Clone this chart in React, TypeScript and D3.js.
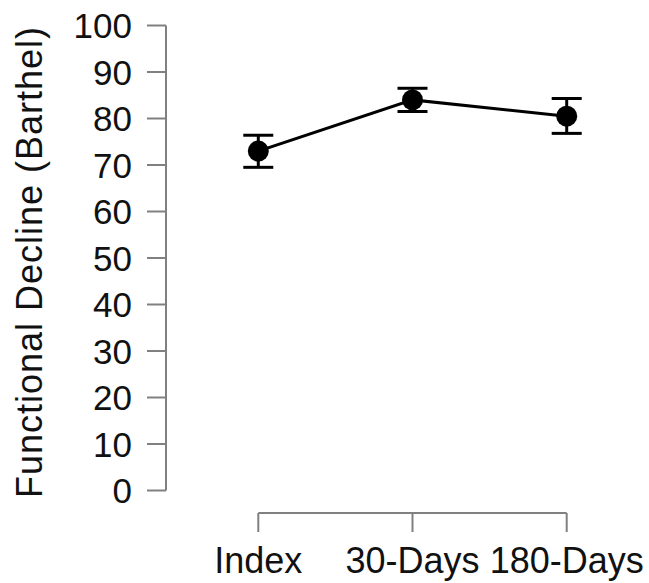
import { useRef, useEffect } from 'react';
import * as d3 from 'd3';

const timepoints = ['Index', '30-Days', '180-Days'];
const means = [73.0, 84.0, 80.5];
const lower = [69.5, 81.5, 76.8];
const upper = [76.4, 86.5, 84.3];
const yTicks = [0, 10, 20, 30, 40, 50, 60, 70, 80, 90, 100];

export default function App() {
  const svgRef = useRef<SVGSVGElement>(null);

  useEffect(() => {
    if (!svgRef.current) return;
    const svg = d3.select(svgRef.current);
    svg.selectAll('*').remove();

    const font = '"Liberation Sans", Arial, sans-serif';
    const axisColor = '#808080';

    const y = d3.scaleLinear().domain([0, 100]).range([490.5, 25.5]);
    const x = d3.scalePoint<string>().domain(timepoints).range([258.3, 566.7]);

    // y axis
    const yAxis = svg.append('g');
    yAxis.append('line')
      .attr('x1', 166).attr('x2', 166)
      .attr('y1', y(0)).attr('y2', y(100))
      .attr('stroke', axisColor).attr('stroke-width', 2);
    yTicks.forEach((t) => {
      yAxis.append('line')
        .attr('x1', 147).attr('x2', 166)
        .attr('y1', y(t)).attr('y2', y(t))
        .attr('stroke', axisColor).attr('stroke-width', 2);
      yAxis.append('text')
        .attr('x', 132).attr('y', y(t))
        .attr('dy', '0.36em')
        .attr('text-anchor', 'end')
        .style('font-family', font).style('font-size', '35px')
        .attr('fill', '#111')
        .text(t);
    });

    // x axis
    const xAxis = svg.append('g');
    xAxis.append('line')
      .attr('x1', x('Index')!).attr('x2', x('180-Days')!)
      .attr('y1', 513).attr('y2', 513)
      .attr('stroke', axisColor).attr('stroke-width', 2);
    timepoints.forEach((tp) => {
      xAxis.append('line')
        .attr('x1', x(tp)!).attr('x2', x(tp)!)
        .attr('y1', 513).attr('y2', 532)
        .attr('stroke', axisColor).attr('stroke-width', 2);
      xAxis.append('text')
        .attr('x', x(tp)!).attr('y', 573)
        .attr('text-anchor', 'middle')
        .style('font-family', font).style('font-size', '36px')
        .attr('fill', '#111')
        .text(tp);
    });

    // y title
    svg.append('text')
      .attr('transform', `translate(42, 262) rotate(-90)`)
      .attr('text-anchor', 'middle')
      .style('font-family', font).style('font-size', '36px')
      .style('letter-spacing', '1px')
      .attr('fill', '#111')
      .text('Functional Decline (Barthel)');

    const data = timepoints.map((tp, i) => ({ tp, m: means[i], lo: lower[i], hi: upper[i] }));

    // error bars
    const eb = svg.append('g').attr('stroke', '#000').attr('stroke-width', 3);
    data.forEach((d) => {
      const cx = x(d.tp)!;
      eb.append('line').attr('x1', cx).attr('x2', cx).attr('y1', y(d.lo)).attr('y2', y(d.hi));
      eb.append('line').attr('x1', cx - 15).attr('x2', cx + 15).attr('y1', y(d.lo)).attr('y2', y(d.lo));
      eb.append('line').attr('x1', cx - 15).attr('x2', cx + 15).attr('y1', y(d.hi)).attr('y2', y(d.hi));
    });

    // line
    const line = d3.line<typeof data[number]>().x((d) => x(d.tp)!).y((d) => y(d.m));
    svg.append('path')
      .datum(data)
      .attr('d', line)
      .attr('fill', 'none')
      .attr('stroke', '#000')
      .attr('stroke-width', 3);

    // points
    svg.selectAll('circle.pt')
      .data(data)
      .join('circle')
      .attr('class', 'pt')
      .attr('cx', (d) => x(d.tp)!)
      .attr('cy', (d) => y(d.m))
      .attr('r', 10.5)
      .attr('fill', '#000');
  }, []);

  return (
    <svg
      ref={svgRef}
      width={649}
      height={583}
      style={{ display: 'block', position: 'absolute', left: 0, top: 0, background: '#fff' }}
    />
  );
}
